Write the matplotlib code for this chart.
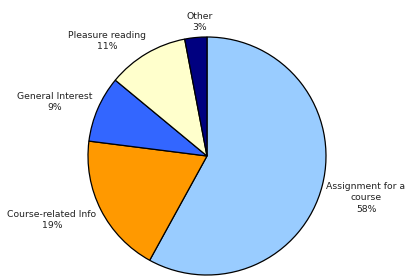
import matplotlib.pyplot as plt

# Datos del grafico
categorias = ["Assignment for a\ncourse", "Course-related Info", "General Interest",
              "Pleasure reading", "Other"]
porcentajes = [58, 19, 9, 11, 3]
colores = ["#99CCFF", "#FF9900", "#3366FF", "#FFFFCC", "#000080"]

# Posicion de cada etiqueta (pixeles, origen arriba a la izquierda)
pos_etiquetas = [(366, 198), (52, 220), (55, 102), (107, 41), (200, 22)]

fig = plt.figure(figsize=(4.07, 2.77), dpi=100)
ax = fig.add_axes([0, 0, 1, 1])

centro = (207, 277 - 156)
radio = 119

wedges, textos = ax.pie(porcentajes, colors=colores, startangle=90, counterclock=False,
                        center=centro, radius=radio,
                        labels=[f"{c}\n{p}%" for c, p in zip(categorias, porcentajes)],
                        wedgeprops=dict(edgecolor="black", linewidth=0.9),
                        textprops=dict(fontsize=6.7, color="#222222"))

for t, (x, y) in zip(textos, pos_etiquetas):
    t.set_position((x, 277 - y))
    t.set_ha("center")
    t.set_va("center")
    t.set_multialignment("center")
    t.set_linespacing(1.35)

ax.set_xlim(0, 407)
ax.set_ylim(0, 277)
ax.set_aspect("equal")
ax.axis("off")

fig.savefig("out.png", dpi=100)
